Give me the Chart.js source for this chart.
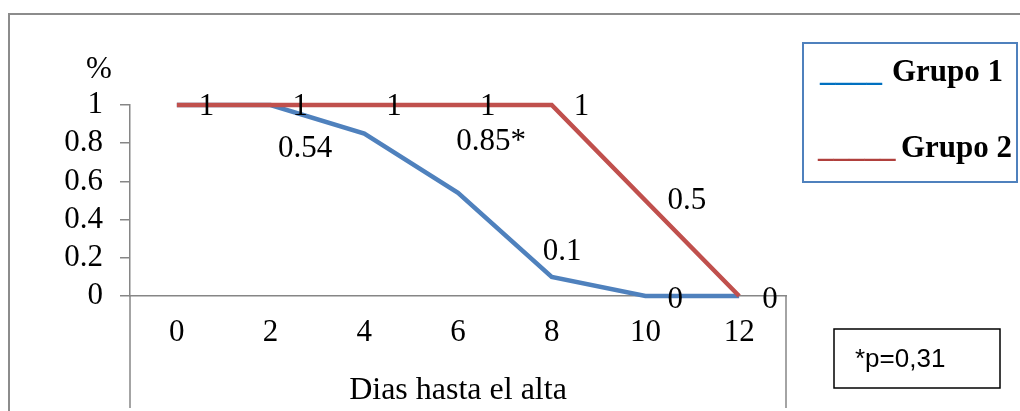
<!DOCTYPE html>
<html>
<head>
<meta charset="utf-8">
<script src="https://cdn.jsdelivr.net/npm/chart.js@4.4.1/dist/chart.umd.min.js"></script>
<style>
	html, body { margin: 0; padding: 0; background: #fff; }
	#wrap { width: 1020px; height: 411px; }
</style>
</head>
<body>
<div id="wrap"><canvas id="altaChart" width="1020" height="411"></canvas></div>
<script>
// Dias hasta el alta
const dias = ['0', '2', '4', '6', '8', '10', '12'];
const grupo1 = [1, 1, 0.85, 0.54, 0.1, 0, 0];
const grupo2 = [1, 1, 1, 1, 1, 0.5, 0];
const etiquetas1 = ['', '', '0.85*', '0.54', '0.1', '0', ''];
const etiquetas2 = ['1', '1', '1', '1', '1', '0.5', '0'];
const yTicks = [0, 0.2, 0.4, 0.6, 0.8, 1];
const yTickLabels = ['0', '0.2', '0.4', '0.6', '0.8', '1'];

const serif = '"Liberation Serif", "Times New Roman", serif';
const gris = '#868686';

// data labels, offset from their point as placed in the original
const etiquetasPlugin = {
	id: 'etiquetas',
	afterDatasetsDraw(chart) {
		const ctx = chart.ctx;
		ctx.save();
		ctx.font = '31px ' + serif;
		ctx.fillStyle = '#000';
		ctx.textAlign = 'left';
		ctx.textBaseline = 'middle';
		chart.data.datasets.forEach((ds, d) => {
			const meta = chart.getDatasetMeta(d);
			ds.etiquetas.forEach((t, i) => {
				if (!t) return;
				const p = meta.data[i];
				const off = ds.desplaz[i];
				ctx.fillText(t, p.x + off[0], p.y + off[1]);
			});
		});
		ctx.restore();
	}
};

// frame, legend box, p box
const marcoPlugin = {
	id: 'marco',
	afterDraw(chart) {
		const ctx = chart.ctx;
		const area = chart.chartArea;
		ctx.save();
		// outer frame
		ctx.strokeStyle = '#8c8c8c';
		ctx.lineWidth = 2;
		ctx.beginPath();
		ctx.moveTo(9, 411);
		ctx.lineTo(9, 14);
		ctx.lineTo(1020, 14);
		ctx.stroke();

		// axis lines running down past the labels
		ctx.strokeStyle = gris;
		ctx.lineWidth = 1.5;
		ctx.beginPath();
		ctx.moveTo(area.left, area.bottom);
		ctx.lineTo(area.left, 408);
		ctx.moveTo(area.right, area.bottom);
		ctx.lineTo(area.right, 408);
		ctx.stroke();

		// %
		ctx.fillStyle = '#000';
		ctx.font = '31px ' + serif;
		ctx.textAlign = 'center';
		ctx.textBaseline = 'alphabetic';
		ctx.fillText('%', area.left - 31, area.top - 27);

		// legend
		ctx.strokeStyle = '#4F81BD';
		ctx.lineWidth = 2;
		ctx.strokeRect(803, 43, 214, 139);
		ctx.textAlign = 'left';
		ctx.font = 'bold 31px ' + serif;
		ctx.fillStyle = '#0070C0';
		ctx.fillText('____', 820, 81);
		ctx.fillStyle = '#000';
		ctx.fillText('Grupo 1', 892, 81);
		ctx.fillStyle = '#B0403D';
		ctx.fillText('_____', 818, 157);
		ctx.fillStyle = '#000';
		ctx.fillText('Grupo 2', 901, 157);

		// p value box
		ctx.strokeStyle = '#000';
		ctx.lineWidth = 1.5;
		ctx.strokeRect(834, 329, 166, 59);
		ctx.font = '26px "Liberation Sans", Arial, sans-serif';
		ctx.fillText('*p=0,31', 855, 367);
		ctx.restore();
	}
};

new Chart(document.getElementById('altaChart'), {
	type: 'line',
	data: {
		labels: dias,
		datasets: [{
			label: 'Grupo 1',
			data: grupo1,
			borderColor: '#4F81BD',
			borderWidth: 4.5,
			pointRadius: 0,
			tension: 0,
			clip: false,
			order: 1,
			etiquetas: etiquetas1,
			desplaz: [[0, 0], [0, 0], [92, 8], [-180, -44], [-9, -25], [22, 4], [0, 0]]
		}, {
			label: 'Grupo 2',
			data: grupo2,
			borderColor: '#C0504D',
			borderWidth: 4.5,
			pointRadius: 0,
			tension: 0,
			clip: false,
			order: 0,
			etiquetas: etiquetas2,
			desplaz: [[22, 2], [22, 2], [22, 2], [22, 2], [22, 2], [22, 0], [23, 4]]
		}]
	},
	options: {
		responsive: false,
		animation: false,
		devicePixelRatio: 1,
		layout: { padding: { top: 105, right: 234, left: 0, bottom: 0 } },
		plugins: {
			legend: { display: false },
			tooltip: { enabled: false }
		},
		scales: {
			x: {
				offset: true,
				grid: { display: false, drawTicks: false },
				border: { display: true, color: gris, width: 1.5 },
				ticks: { font: { family: serif, size: 31 }, color: '#000', padding: 18, maxRotation: 0, autoSkip: false },
				title: { display: true, text: 'Dias hasta el alta', font: { family: serif, size: 32 }, color: '#000', padding: { top: 0, bottom: 1 } },
				afterFit: s => { s.height = 115; }
			},
			y: {
				min: 0,
				max: 1,
				afterBuildTicks: s => { s.ticks = yTicks.map(v => ({ value: v })); },
				grid: { drawOnChartArea: false, drawTicks: true, tickLength: 10, color: gris, lineWidth: 1.5 },
				border: { display: true, color: gris, width: 1.5 },
				ticks: {
					font: { family: serif, size: 31 },
					color: '#000',
					padding: 17,
					autoSkip: false,
					callback: v => yTickLabels[yTicks.indexOf(v)]
				},
				afterFit: s => { s.width = 130; }
			}
		}
	},
	plugins: [etiquetasPlugin, marcoPlugin]
});
</script>
</body>
</html>
